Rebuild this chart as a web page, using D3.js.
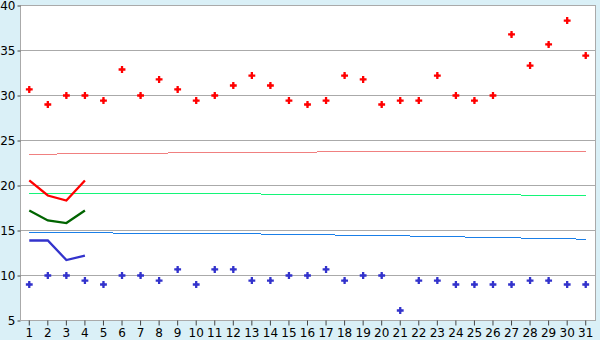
<!DOCTYPE html>
<html>
<head>
<meta charset="utf-8">
<script src="https://cdn.jsdelivr.net/npm/d3@7"></script>
<style>
  body { margin: 0; background: #daf0f7; }
  svg { display: block; }
  .tick text { font-family: "DejaVu Sans", Verdana, sans-serif; font-size: 12px; fill: #000; }
</style>
</head>
<body>
<div id="chart"></div>
<script>
var days = d3.range(1, 32);
var yTicks = [5, 10, 15, 20, 25, 30, 35, 40];

// daily maxima / minima (points)
var highs = [30.67, 29.0, 30.0, 30.0, 29.44, 32.89, 30.0, 31.78, 30.67, 29.44, 30.0, 31.11, 32.22, 31.11, 29.44,
             29.0, 29.44, 32.22, 31.78, 29.0, 29.44, 29.44, 32.22, 30.0, 29.44, 30.0, 36.78, 33.33, 35.67, 38.33, 34.44];
var lows = [9.0, 10.0, 10.0, 9.44, 9.0, 10.0, 10.0, 9.44, 10.67, 9.0, 10.67, 10.67, 9.44, 9.44, 10.0,
            10.0, 10.67, 9.44, 10.0, 10.0, 6.11, 9.44, 9.44, 9.0, 9.0, 9.0, 9.0, 9.44, 9.44, 9.0, 9.0];

// normals (thin lines)
var normHigh = [23.44, 23.44, 23.56, 23.56, 23.56, 23.56, 23.56, 23.56, 23.67, 23.67, 23.67, 23.67, 23.67, 23.67, 23.67,
                23.67, 23.78, 23.78, 23.78, 23.78, 23.78, 23.78, 23.78, 23.78, 23.78, 23.78, 23.78, 23.78, 23.78, 23.78, 23.78];
var normMean = [19.11, 19.11, 19.11, 19.11, 19.11, 19.11, 19.11, 19.11, 19.11, 19.11, 19.11, 19.11, 19.11, 19.0, 19.0,
                19.0, 19.0, 19.0, 19.0, 19.0, 19.0, 19.0, 19.0, 19.0, 19.0, 19.0, 19.0, 18.89, 18.89, 18.89, 18.89];
var normLow = [14.78, 14.78, 14.78, 14.78, 14.78, 14.67, 14.67, 14.67, 14.67, 14.67, 14.67, 14.67, 14.67, 14.56, 14.56,
               14.56, 14.56, 14.44, 14.44, 14.44, 14.44, 14.33, 14.33, 14.33, 14.22, 14.22, 14.22, 14.11, 14.11, 14.11, 14.0];

// recent values (thick lines, first four days)
var recHigh = [20.56, 18.89, 18.33, 20.56];
var recMean = [17.22, 16.11, 15.83, 17.22];
var recLow = [13.89, 13.89, 11.72, 12.22];

var svg = d3.select("#chart").append("svg")
    .attr("width", 600)
    .attr("height", 340);

var pLeft = 20, pRight = 595, pTop = 5, pBottom = 320;

var x = d3.scaleBand().domain(days).range([pLeft, pRight]);
var y = d3.scaleLinear().domain([5, 40]).range([pBottom + 0.5, pTop + 0.5]);
var cx = function (d) { return x(d) + x.bandwidth() / 2; };

// plot area
svg.append("rect")
    .attr("x", pLeft).attr("y", pTop)
    .attr("width", pRight - pLeft).attr("height", pBottom - pTop)
    .attr("fill", "#fff");

// grid
svg.append("g").selectAll("line")
    .data(yTicks)
    .join("line")
    .attr("x1", pLeft).attr("x2", pRight)
    .attr("y1", function (d) { return y(d); })
    .attr("y2", function (d) { return y(d); })
    .attr("stroke", "#aaa")
    .attr("shape-rendering", "crispEdges");

svg.append("line")
    .attr("x1", pRight + 0.5).attr("x2", pRight + 0.5)
    .attr("y1", pTop).attr("y2", pBottom)
    .attr("stroke", "#aaa");

// axes
var yAxis = svg.append("g")
    .attr("transform", "translate(" + (pLeft + 0.5) + ",0)")
    .call(d3.axisLeft(y).tickValues(yTicks).tickSize(3).tickPadding(2));

var xAxis = svg.append("g")
    .attr("transform", "translate(0," + (pBottom + 0.5) + ")")
    .call(d3.axisBottom(x).tickSize(5).tickPadding(3));

[yAxis, xAxis].forEach(function (a) {
    a.select(".domain").attr("stroke", "#aaa");
    a.selectAll(".tick line").attr("stroke", "#444");
});
yAxis.select(".domain").attr("d", "M0," + pTop + "V" + (pBottom + 0.5));
xAxis.select(".domain").attr("d", "M" + pLeft + ",0H" + (pRight + 1));

// thin normal lines (stepped, no vertical risers)
var thin = [[normHigh, "#f08080"], [normMean, "#14f578"], [normLow, "#1a7fe8"]];
thin.forEach(function (s) {
    var half = x.bandwidth() / 2;
    svg.append("g").selectAll("line")
        .data(s[0])
        .join("line")
        .attr("x1", function (d, i) { return i === 0 ? cx(days[i]) : cx(days[i]) - half; })
        .attr("x2", function (d, i) { return i === days.length - 1 ? cx(days[i]) : cx(days[i]) + half; })
        .attr("y1", function (d) { return Math.round(y(d) - 0.5) + 0.5; })
        .attr("y2", function (d) { return Math.round(y(d) - 0.5) + 0.5; })
        .attr("stroke", s[1])
        .attr("stroke-width", 1.3)
        .attr("shape-rendering", "crispEdges");
});

// thick recent lines
var thick = [[recHigh, "#ff0000"], [recMean, "#006400"], [recLow, "#3333cc"]];
thick.forEach(function (s) {
    svg.append("path")
        .datum(s[0])
        .attr("fill", "none")
        .attr("stroke", s[1])
        .attr("stroke-width", 2.3)
        .attr("d", d3.line()
            .x(function (d, i) { return cx(days[i]); })
            .y(function (d) { return y(d); }));
});

// points: small plus with a diamond core
var cross = d3.symbol().type(d3.symbolCross).size(26);
var core = d3.symbol().type(d3.symbolDiamond).size(10);
[[highs, "#ff0000"], [lows, "#3333cc"]].forEach(function (s) {
    var g = svg.append("g").selectAll("g")
        .data(s[0])
        .join("g")
        .attr("transform", function (d, i) { return "translate(" + cx(days[i]) + "," + y(d) + ")"; });
    g.append("path").attr("d", cross).attr("fill", s[1]);
    g.append("path").attr("d", core).attr("fill", s[1]);
});
</script>
</body>
</html>
